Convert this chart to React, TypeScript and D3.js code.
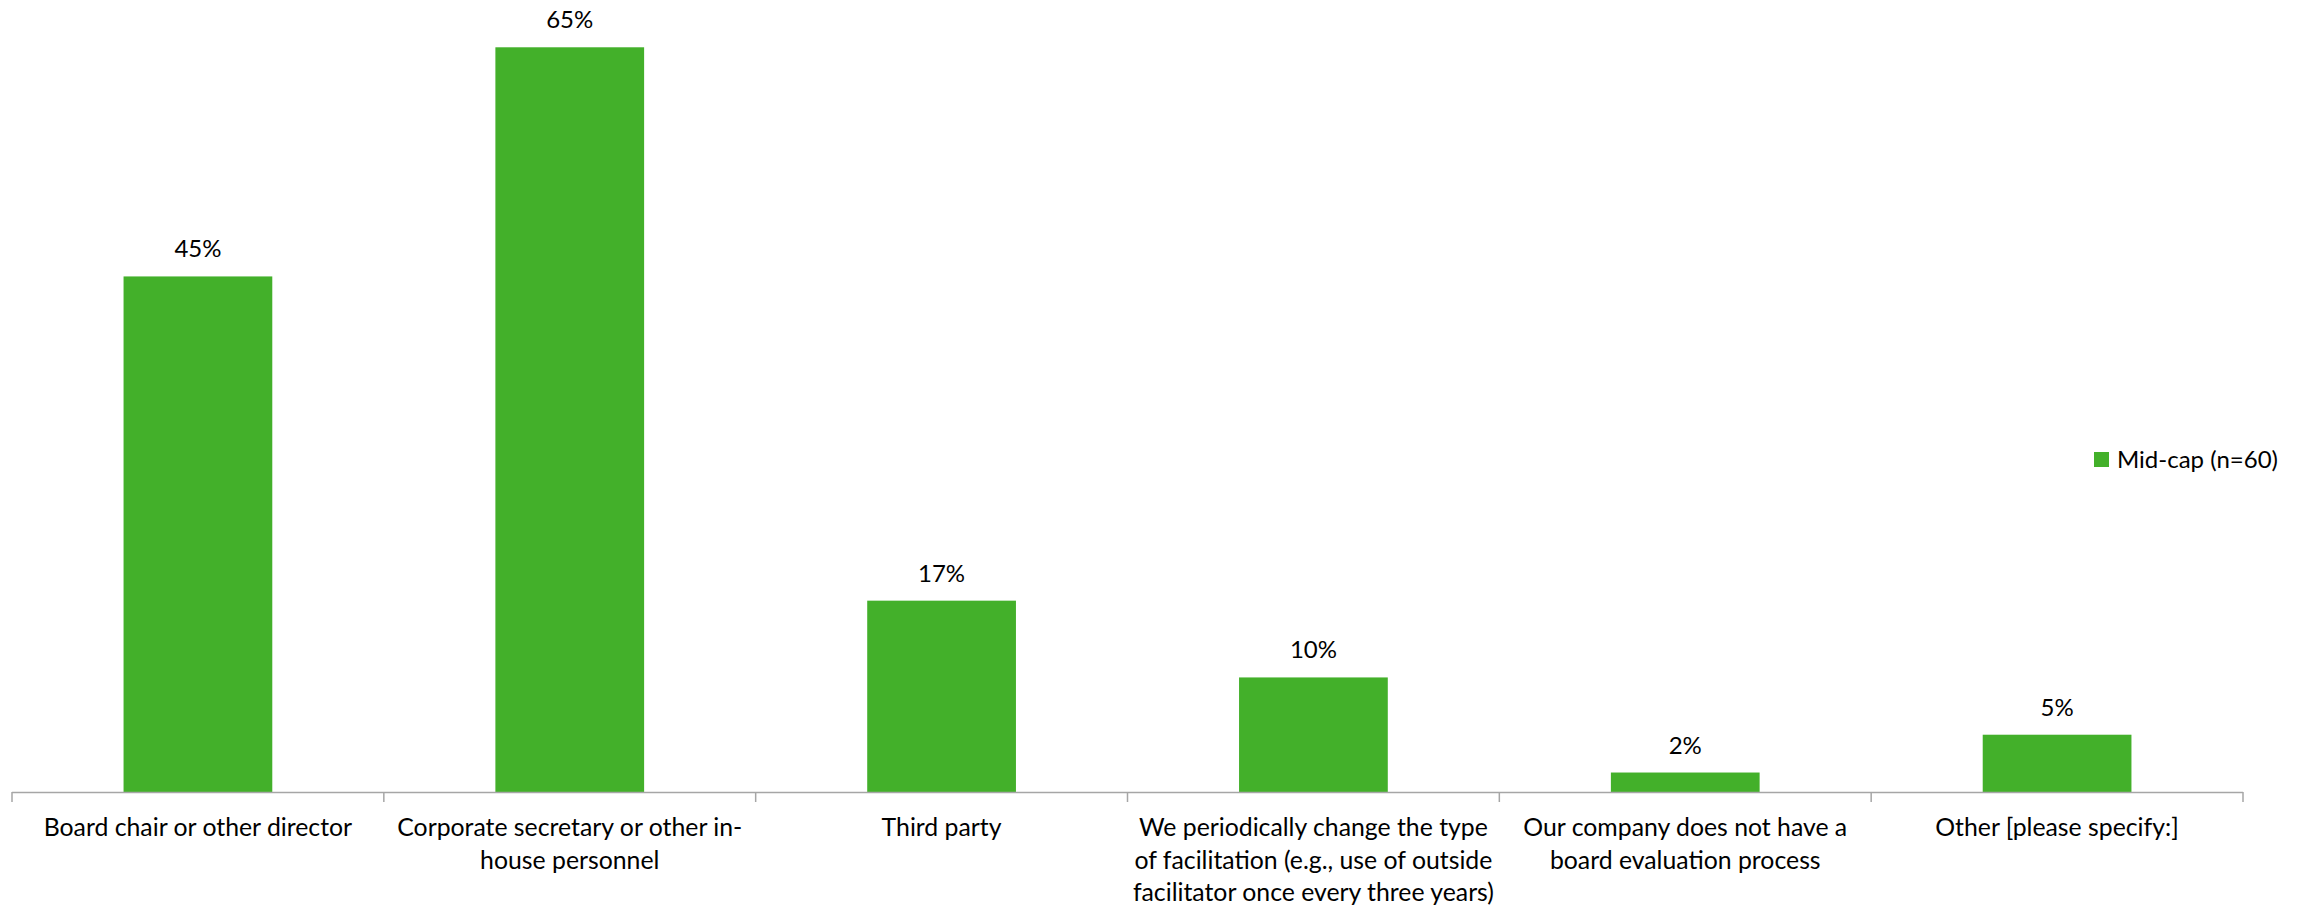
import React from "react";
import * as d3 from "d3";

const categoryLines: string[][] = [
  ["Board chair or other director"],
  ["Corporate secretary or other in-", "house personnel"],
  ["Third party"],
  ["We periodically change the type", "of facilitation (e.g., use of outside", "facilitator once every three years)"],
  ["Our company does not have a", "board evaluation process"],
  ["Other [please specify:]"],
];
const categories = categoryLines.map((l) => l.join(" "));
const values: number[] = [45, 65, 16.7, 10, 1.7, 5];
const seriesName = "Mid-cap (n=60)";

const W = 2310;
const H = 909;
const FONT = "Lato, 'Open Sans', sans-serif";
const FS = 24;
const FS_CAT = 24.8;
const GREEN = "#43B02A";
const AXIS = "#a6a6a6";

export default function App() {
  const x = d3
    .scaleBand<string>()
    .domain(categories)
    .range([12, 2243])
    .paddingInner(0.6)
    .paddingOuter(0.3);
  const y = d3.scaleLinear().domain([0, 70]).range([792, -10]);
  const step = x.step();
  const x0 = 12;
  const boundaries = d3.range(categories.length + 1).map((i) => x0 + i * step);

  return (
    <svg
      width={W}
      height={H}
      style={{ position: "absolute", left: 0, top: 0, display: "block", background: "#fff" }}
      fontFamily={FONT}
    >
      {categories.map((c, i) => (
        <g key={c}>
          <rect
            x={x(c)!}
            y={y(values[i])}
            width={x.bandwidth()}
            height={y(0) - y(values[i])}
            fill={GREEN}
          />
          <text
            x={x(c)! + x.bandwidth() / 2}
            y={y(values[i]) - 19}
            textAnchor="middle"
            fontSize={FS}
            fill="#000"
          >
            {`${Math.round(values[i])}%`}
          </text>
          {categoryLines[i].map((line, j) => (
            <text
              key={j}
              x={x(c)! + x.bandwidth() / 2}
              y={836 + j * 32.5}
              textAnchor="middle"
              fontSize={FS_CAT}
              fill="#000"
            >
              {line}
            </text>
          ))}
        </g>
      ))}
      <line x1={x0} x2={x0 + step * categories.length} y1={y(0) + 0.5} y2={y(0) + 0.5} stroke={AXIS} strokeWidth={1.5} />
      {boundaries.map((bx, i) => (
        <line key={i} x1={bx} x2={bx} y1={y(0)} y2={y(0) + 10} stroke={AXIS} strokeWidth={1.5} />
      ))}
      <rect x={2094} y={452} width={15} height={15} fill={GREEN} />
      <text x={2117} y={468} fontSize={FS} fill="#000">
        {seriesName}
      </text>
    </svg>
  );
}
